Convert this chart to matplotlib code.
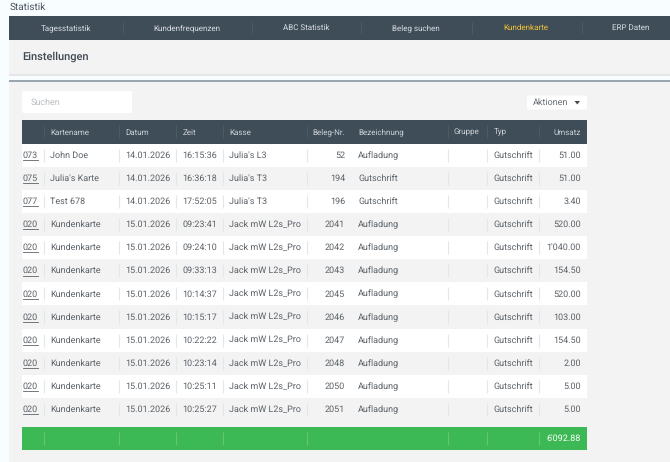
import matplotlib
matplotlib.use("Agg")
import matplotlib.pyplot as plt
from matplotlib.patches import Rectangle, FancyBboxPatch

plt.rcParams['font.family'] = ['Roboto', 'DejaVu Sans']
plt.rcParams['text.hinting'] = 'none'
plt.rcParams['text.hinting_factor'] = 1

nav_items = ["Tagesstatistik", "Kundenfrequenzen", "ABC Statistik", "Beleg suchen", "Kundenkarte", "ERP Daten"]
headers = ["Kartename", "Datum", "Zeit", "Kasse", "Beleg-Nr.", "Bezeichnung", "Gruppe", "Typ", "Umsatz"]
card_ids = ["073", "075", "077", "020", "020", "020", "020", "020", "020", "020", "020", "020"]
card_names = ["John Doe", "Julia's Karte", "Test 678"] + ["Kundenkarte"] * 9
dates = ["14.01.2026"] * 3 + ["15.01.2026"] * 9
times = ["16:15:36", "16:36:18", "17:52:05", "09:23:41", "09:24:10", "09:33:13",
         "10:14:37", "10:15:17", "10:22:22", "10:23:14", "10:25:11", "10:25:27"]
registers = ["Julia's L3", "Julia's T3", "Julia's T3"] + ["Jack mW L2s_Pro"] * 9
receipts = ["52", "194", "196", "2041", "2042", "2043", "2045", "2046", "2047", "2048", "2050", "2051"]
labels = ["Aufladung", "Gutschrift", "Gutschrift"] + ["Aufladung"] * 9
types = ["Gutschrift"] * 12
amounts = ["51.00", "51.00", "3.40", "520.00", "1'040.00", "154.50",
           "520.00", "103.00", "154.50", "2.00", "5.00", "5.00"]
total = "6'092.88"

W, H = 670, 462
fig = plt.figure(figsize=(W / 100, H / 100), dpi=100, facecolor="#f8fdff")
ax = fig.add_axes([0, 0, 1, 1])
ax.set_xlim(0, W)
ax.set_ylim(H, 0)
ax.axis("off")

DARK = "#3f4d59"
GREY = "#f3f3f3"
TXT = "#5b6268"
SEP = "#e4e6e8"
FS = 6.3
NAVFS = 5.5
HEADFS = 5.5

def rect(x0, y0, x1, y1, c, z=1):
    ax.add_patch(Rectangle((x0, y0), x1 - x0, y1 - y0, fc=c, ec="none", zorder=z))

def vline(x, y0, y1, c=SEP, lw=0.8, z=3):
    ax.plot([x, x], [y0, y1], color=c, lw=lw, zorder=z, solid_capstyle="butt")

# page
ax.text(9.5, 7, "Statistik", fontsize=7.3, color="#4b5560", va="center")
rect(9, 16, W, 40, DARK)
rect(9, 40, W, 74, GREY)
rect(9, 74, W, 75.5, "#e6e6e6")
rect(9, 80, W, 81.5, "#9aa5ad", 2)
rect(9, 81.5, W, H, GREY)

# nav
nav_centers = [66, 187, 306, 416, 526, 631]
nav_seps = [123, 252, 361, 472, 582]
for x, s in zip(nav_centers, nav_items):
    ax.text(x, 28, s, fontsize=NAVFS, ha="center", va="center",
            color="#f2c335" if s == "Kundenkarte" else "#d8dde1", zorder=4)
for x in nav_seps:
    vline(x, 22, 34, "#4d5a66")

ax.text(22, 57, "Einstellungen", fontsize=7.8, color="#3f4952", va="center", weight="medium")

# search / actions
ax.add_patch(FancyBboxPatch((22, 91), 110, 22, boxstyle="round,pad=0,rounding_size=2", fc="white", ec="none"))
ax.text(30.5, 102.5, "Suchen", fontsize=6.6, color="#b9bdc1", va="center")
ax.add_patch(FancyBboxPatch((527, 95.5), 60, 14, boxstyle="round,pad=0,rounding_size=1.5", fc="white", ec="none"))
ax.text(533, 102.5, "Aktionen", fontsize=6.3, color="#666d73", va="center")
ax.fill([574.5, 580, 577.3], [101, 101, 104.5], color="#3f4952", lw=0)

# table
L, R = 22, 587
seps = [44, 119, 176, 223, 307, 448, 487, 539]
head_x = [50, 125.5, 182.5, 229, None, 358, 454, 493.5, None]
rect(L, 120, R, 143.5, DARK)
for x in seps:
    vline(x, 125, 138, "#4d5a66")
for x, s in zip(head_x, headers):
    if x is not None:
        ax.text(x, 132.5, s, fontsize=HEADFS, color="#ccd2d6", va="center", zorder=4)
ax.text(345, 132.5, headers[4], fontsize=HEADFS, color="#ccd2d6", va="center", ha="right", zorder=4)
ax.text(581, 132.5, headers[8], fontsize=HEADFS, color="#ccd2d6", va="center", ha="right", zorder=4)

rh = 23.13
top = 143.5
rect(L, top, R, 420.5, "white")
for i in range(len(times)):
    y0 = top + i * rh
    yc = y0 + rh / 2 + 0.2
    if i % 2 == 1:
        rect(L, y0, R, y0 + rh, GREY)
    for x in seps:
        vline(x, y0 + 5, y0 + rh - 5)
    ax.text(37.5, yc, card_ids[i], fontsize=6.6, color=TXT, va="center", ha="right", zorder=4)
    ax.plot([22.5, 37.5], [yc + 4.7, yc + 4.7], color=TXT, lw=0.6, zorder=4)
    for x, col in zip([50.5, 125.5, 182.5, 229, 358, 493.5],
                      [card_names, dates, times, registers, labels, types]):
        ax.text(x, yc, col[i], fontsize=FS, color=TXT, va="center", zorder=4)
    ax.text(345, yc, receipts[i], fontsize=FS, color=TXT, va="center", ha="right", zorder=4)
    ax.text(581, yc, amounts[i], fontsize=FS, color=TXT, va="center", ha="right", zorder=4)

# total
rect(L, 427, R, 450, "#3cb954", 2)
for x in seps:
    vline(x, 432, 445, "#63c777")
ax.text(581, 438.5, total, fontsize=FS, color="white", va="center", ha="right", zorder=4)
rect(R, 120, R + 1, 450, "#ebebeb", 0.9)

fig.savefig("out.png", dpi=100, facecolor=fig.get_facecolor())
